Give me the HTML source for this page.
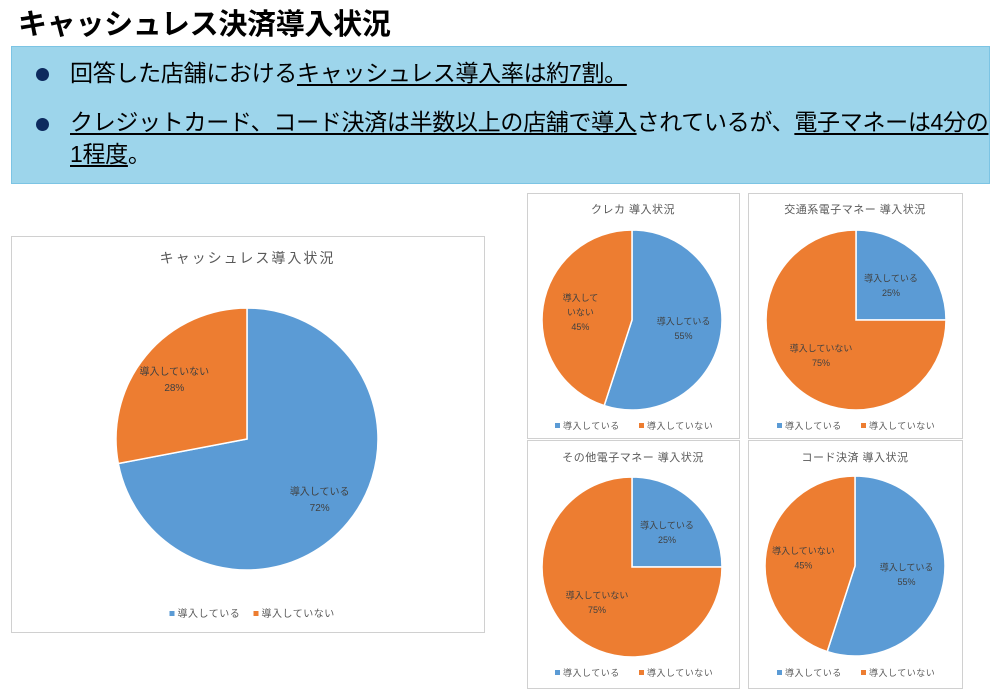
<!DOCTYPE html>
<html><head><meta charset="utf-8">
<style>
body{margin:0;width:1000px;height:698px;background:#fff;overflow:hidden;position:relative;font-family:"Liberation Sans","Noto Sans CJK JP",sans-serif;}
#title{position:absolute;left:18px;top:1px;font-size:29px;font-weight:bold;color:#000;letter-spacing:-0.3px;}
#banner{position:absolute;left:11px;top:46px;width:977px;height:136px;background:#9dd5eb;border:1px solid #7cc4e4;}
.bl{position:absolute;left:58px;font-size:23px;color:#000;line-height:32px;letter-spacing:-0.3px;}
.dot{position:absolute;left:24px;width:13px;height:13px;border-radius:50%;background:#0d2a5e;}
u{text-decoration:underline;text-underline-offset:3px;}
svg{position:absolute;left:0;top:0;}
</style></head><body>
<div id="title">キャッシュレス決済導入状況</div>
<div id="banner">
<div class="dot" style="top:21px"></div>
<div class="bl" style="top:10px">回答した店舗における<u>キャッシュレス導入率は約7割。</u></div>
<div class="dot" style="top:71px"></div>
<div class="bl" style="top:59px;width:920px"><u>クレジットカード、コード決済は半数以上の店舗で導入</u>されているが、<u>電子マネーは4分の<br>1程度</u>。</div>
</div>
<svg id="chart" width="1000" height="698"></svg>
<script>
const categories=["導入している","導入していない"];
const chartTitles=["キャッシュレス導入状況","クレカ 導入状況","交通系電子マネー 導入状況","その他電子マネー 導入状況","コード決済 導入状況"];
const valsTotal=[72,28];
const valsCredit=[55,45];
const valsTransit=[25,75];
const valsOther=[25,75];
const valsCode=[55,45];
const series=[valsTotal,valsCredit,valsTransit,valsOther,valsCode];
const colors=["#5b9bd5","#ed7d31"];
const layouts=[
 {x:11,y:236,w:473,h:396,cx:247,cy:439,r:131,ty:263,ly:617,fs:10,tfs:14,lf:0.72},
 {x:527,y:193,w:212,h:245,cx:632,cy:320,r:90,ty:213,ly:429,fs:9,tfs:11,lf:0.58,wrap:true},
 {x:748,y:193,w:214,h:245,cx:856,cy:320,r:90,ty:213,ly:429,fs:9,tfs:11,lf:0.55},
 {x:527,y:440,w:212,h:248,cx:632,cy:567,r:90,ty:461,ly:676,fs:9,tfs:11,lf:0.55},
 {x:748,y:440,w:214,h:248,cx:855,cy:566,r:90,ty:461,ly:676,fs:9,tfs:11,lf:0.58}
];
const NS="http://www.w3.org/2000/svg";
const svg=document.getElementById('chart');
function mk(t,a,p){const e=document.createElementNS(NS,t);for(const k in a)e.setAttribute(k,a[k]);(p||svg).appendChild(e);return e;}
function pt(cx,cy,r,a){return [cx+r*Math.sin(a),cy-r*Math.cos(a)];}
series.forEach((vals,ci)=>{
 const L=layouts[ci];
 const g=mk('g',{});
 
 
 const box=mk('rect',{x:L.x+0.5,y:L.y+0.5,width:L.w,height:L.h,fill:'#fff',stroke:'#d0d0d0'},g);
 
 
 const t=mk('text',{x:L.x+L.w/2,y:L.ty,'text-anchor':'middle','font-size':L.tfs,fill:'#595959','letter-spacing':ci==0?2:0.5},g);
 t.textContent=chartTitles[ci];
 
 
 const tot=vals.reduce((a,b)=>a+b,0);
 let a0=0;
 vals.forEach((v,i)=>{
  const a1=a0+v/tot*2*Math.PI;
  const [x0,y0]=pt(L.cx,L.cy,L.r,a0),[x1,y1]=pt(L.cx,L.cy,L.r,a1);
  const large=(a1-a0)>Math.PI?1:0;
  const p=mk('path',{d:`M${L.cx},${L.cy}L${x0},${y0}A${L.r},${L.r} 0 ${large} 1 ${x1},${y1}Z`,fill:colors[i],stroke:'#fff','stroke-width':1.5},g);
  
  
  const am=(a0+a1)/2;
  const [lx,ly]=pt(L.cx,L.cy,L.r*L.lf,am);
  const lab=mk('text',{x:lx,y:ly+L.fs*0.4,'text-anchor':'middle','font-size':L.fs,fill:'#404040'},g);
  
  
  let lines=[categories[i],v+'%'];
  if(L.wrap&&categories[i].length>6)lines=[categories[i].slice(0,4),categories[i].slice(4),v+'%'];
  const lh=L.fs*1.6;
  lines.forEach((s,k)=>{const ts=mk('tspan',{x:lx,dy:k==0?-(lines.length-1)*lh/2:lh},lab);ts.textContent=s;});
  a0=a1;
 });
 const lx0=L.x+L.w/2-78;
 categories.forEach((c,i)=>{
  const ox=lx0+i*84;
  const sq=mk('rect',{x:ox,y:L.ly-6,width:5,height:5,fill:colors[i]},g);
  
  
  const tx=mk('text',{x:ox+8,y:L.ly,'font-size':L.fs,fill:'#595959','letter-spacing':0.5},g);
  tx.textContent=c;
  
  
 });
});
</script>
</body></html>
